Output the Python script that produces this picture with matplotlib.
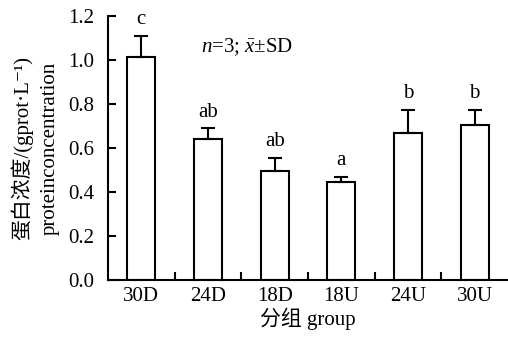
import matplotlib
matplotlib.use("Agg")
import matplotlib.pyplot as plt
import numpy as np

groups = ["30D", "24D", "18D", "18U", "24U", "30U"]
means = [1.015, 0.64, 0.495, 0.444, 0.67, 0.706]
sds = [0.095, 0.05, 0.06, 0.026, 0.103, 0.067]
letters = ["c", "ab", "ab", "a", "b", "b"]
yticks = [0.0, 0.2, 0.4, 0.6, 0.8, 1.0, 1.2]

plt.rcParams['font.family'] = ['Liberation Serif', 'Noto Sans CJK SC',
                               'DejaVu Serif']
plt.rcParams['mathtext.fontset'] = 'custom'
plt.rcParams['mathtext.rm'] = 'Liberation Serif'
plt.rcParams['mathtext.it'] = 'Liberation Serif:italic'

fs = 15
fig = plt.figure(figsize=(5.08, 3.37), dpi=100)
ax = fig.add_axes([0.2126, 0.169, 0.7874, 0.7835])

x = np.arange(len(groups))
ax.bar(x, means, width=0.42, color="white", edgecolor="black", linewidth=1.5)
ax.errorbar(x, means, yerr=[np.zeros(len(sds)), sds], fmt="none",
            ecolor="black", elinewidth=1.5, capsize=5, capthick=1.5)
for i, (m, s, lab) in enumerate(zip(means, sds, letters)):
    ax.text(i, m + s + 0.03, lab, ha="center", va="bottom", fontsize=fs)

ax.text(0.89, 1.06, r"$n$=3; $\bar{x}$±SD", ha="left", va="center",
        fontsize=fs)

ax.set_xlim(-0.5, 5.5)
ax.set_ylim(0, 1.2)
ax.set_yticks(yticks)
ax.set_yticklabels([f"{v:.1f}" for v in yticks])
ax.set_xticks(x)
ax.set_xticklabels(groups)
ax.set_xticks(x[:-1] + 0.5, minor=True)
ax.tick_params(axis="x", which="major", length=0, labelsize=fs, pad=5)
ax.tick_params(axis="x", which="minor", direction="in", length=6, width=1.5)
ax.tick_params(axis="y", direction="in", length=6, width=1.5,
               labelsize=fs, pad=10)
for side in ["top", "right"]:
    ax.spines[side].set_visible(False)
for side in ["left", "bottom"]:
    ax.spines[side].set_linewidth(1.5)

ax.set_ylabel("蛋白浓度/(gprot·L⁻¹)\nproteinconcentration",
              fontsize=fs, linespacing=1.5, labelpad=6)
ax.set_xlabel("分组 group", fontsize=fs, labelpad=1)

fig.savefig("out.png", dpi=100)
